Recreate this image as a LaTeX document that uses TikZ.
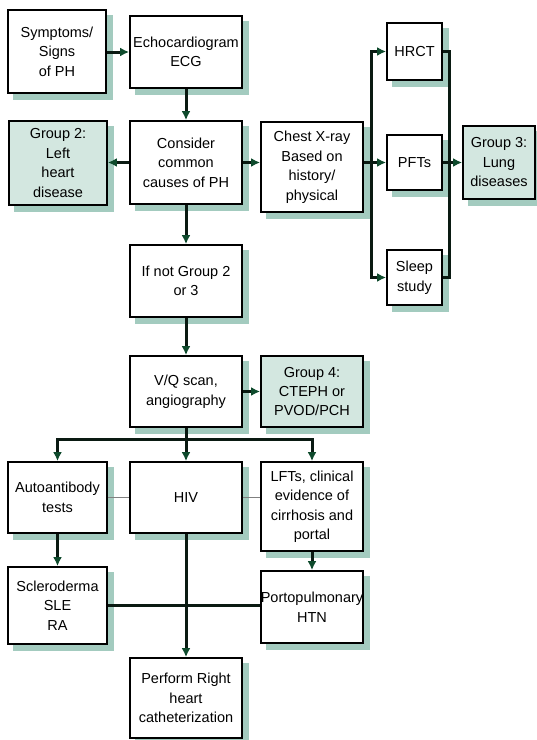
\documentclass[tikz,border=0pt]{standalone}
\usepackage{fontspec}
\setmainfont{Liberation Sans}
\usetikzlibrary{arrows.meta,calc,backgrounds}
\definecolor{shadowc}{HTML}{A3CBBF}
\definecolor{groupc}{HTML}{D3E7E0}
\definecolor{arrowc}{HTML}{0E4A2C}
\definecolor{linec}{HTML}{0A1A12}
\tikzset{
 box/.style={draw=black, line width=1.8pt, fill=white, align=center, inner sep=0pt,
   font=\fontsize{14.5}{19.5}\selectfont},
 grp/.style={box, fill=groupc},
 conn/.style={draw=linec, line width=3pt},
 arr/.style={conn, -{Latex[length=9pt,width=9pt,color=arrowc]}},
 thinln/.style={draw=gray, line width=1.3pt},
 shad/.style={fill=shadowc},
}
\begin{document}
\begin{tikzpicture}[x=1pt,y=-1pt]
\useasboundingbox (0,0) rectangle (537,740);
\node[box, minimum width=98pt, minimum height=83pt] (sym) at (57,51.5) {Symptoms/\\Signs\\of PH};
\node[box, minimum width=112pt, minimum height=72pt] (echo) at (186,52) {Echocardiogram\\ECG};
\node[grp, minimum width=98pt, minimum height=84pt] (g2) at (58,163) {Group 2:\\Left\\heart\\disease};
\node[box, minimum width=112pt, minimum height=83pt] (cons) at (186,162.5) {Consider\\common\\causes of PH};
\node[box, minimum width=102pt, minimum height=90pt] (chest) at (312,167) {Chest X-ray\\Based on\\history/\\physical};
\node[box, minimum width=55pt, minimum height=57pt] (hrct) at (414.5,51.5) {HRCT};
\node[box, minimum width=55pt, minimum height=55pt] (pft) at (414.5,162.5) {PFTs};
\node[box, minimum width=55pt, minimum height=55pt] (sleep) at (414.5,277.5) {Sleep\\study};
\node[grp, minimum width=72pt, minimum height=73pt] (g3) at (499,162.5) {Group 3:\\Lung\\diseases};
\node[box, minimum width=112pt, minimum height=72pt] (ifnot) at (186,281) {If not Group 2\\or 3};
\node[box, minimum width=112pt, minimum height=71pt] (vq) at (186,391.5) {V/Q scan,\\angiography};
\node[grp, minimum width=102pt, minimum height=71pt] (g4) at (312,391.5) {Group 4:\\CTEPH or\\PVOD/PCH};
\node[box, minimum width=99pt, minimum height=71pt] (auto) at (57.5,497.5) {Autoantibody\\tests};
\node[box, minimum width=112pt, minimum height=71pt] (hiv) at (186,497.5) {HIV};
\node[box, minimum width=102pt, minimum height=89pt] (lft) at (312,506.5) {LFTs, clinical\\evidence of\\cirrhosis and\\portal};
\node[box, minimum width=99pt, minimum height=77pt] (sclero) at (57.5,605.5) {Scleroderma\\SLE\\RA};
\node[box, minimum width=102pt, minimum height=72pt] (porto) at (312,607) {Portopulmonary\\HTN};
\node[box, minimum width=112pt, minimum height=80pt] (rhc) at (186,698) {Perform Right\\heart\\catheterization};

\begin{scope}[on background layer]
\foreach \n in {sym,echo,g2,cons,chest,hrct,pft,sleep,g3,ifnot,vq,g4,auto,hiv,lft,sclero,porto,rhc}{
  \fill[shad] ($(\n.south west)+(6,6)$) rectangle ($(\n.north east)+(6,6)$);
}
\end{scope}

\coordinate (bx) at (371,0);
\coordinate (cx) at (449,0);
\coordinate (dv) at (186,439);

\draw[arr] (sym.east |- echo.west) -- (echo.west);
\draw[arr] (echo.south) -- (cons.north);
\draw[arr] (cons.west) -- (g2.east |- cons.west);
\draw[arr] (cons.east) -- (chest.west |- cons.east);
\draw[arr] (cons.south) -- (ifnot.north);
\draw[arr] (chest.east |- pft.west) -- (pft.west);
\draw[arr] (bx |- pft.west) |- (hrct.west);
\draw[arr] (bx |- pft.west) |- (sleep.west);
\draw[conn] (hrct.east) -| (cx |- pft.east);
\draw[conn] (sleep.east) -| (cx |- pft.east);
\draw[arr] (pft.east) -- (g3.west |- pft.east);
\draw[arr] (ifnot.south) -- (vq.north);
\draw[arr] (vq.east) -- (g4.west |- vq.east);
\draw[arr] (vq.south) -- (hiv.north);
\draw[arr] (dv) -| (auto.north);
\draw[arr] (dv) -| (lft.north);
\draw[thinln] (auto.east) -- (hiv.west |- auto.east);
\draw[thinln] (hiv.east) -- (lft.west |- hiv.east);
\draw[arr] (auto.south) -- (sclero.north);
\draw[arr] (lft.south) -- (porto.north);
\draw[conn] (sclero.east) -- (porto.west |- sclero.east);
\draw[arr] (hiv.south) -- (rhc.north);
\end{tikzpicture}
\end{document}
